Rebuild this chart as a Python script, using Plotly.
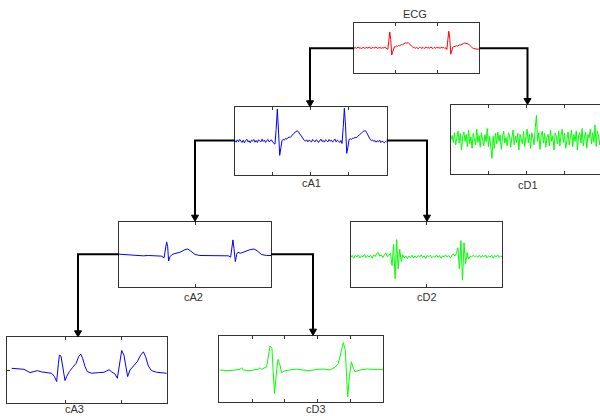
import plotly.graph_objects as go

W, H = 600, 416

# ---- signal data (sample index -> amplitude) ----
ecg = [0.00, 0.03, -0.02, 0.02, 0.04, -0.01, 0.02, -0.03, 0.01, 0.03, 0.00, -0.02, 0.03, 0.01, -0.01, 0.04,
       0.02, -0.02, 0.00, 0.03, -0.01, 0.02, 0.04, 0.00, -0.02, 0.02, 0.01, 0.03, -0.01, 0.02, 0.00, 0.03,
       0.01, -0.02,
       -0.05, 0.25, 0.65, 0.35, -0.28, -0.15, 0.02, 0.06, 0.05, 0.08, 0.07, 0.10, 0.09, 0.12, 0.14, 0.13,
       0.17, 0.19, 0.21, 0.20, 0.22, 0.21, 0.17, 0.13, 0.08, 0.04, 0.01, 0.02,
       -0.01, 0.02, 0.00, -0.02, 0.01, 0.03, -0.01, 0.00, 0.02, -0.02, 0.01, 0.03, 0.00, 0.02, -0.01, 0.01,
       0.04, 0.00, -0.02, 0.02, 0.01, -0.01, 0.03, 0.00, 0.02, -0.01, 0.01, 0.03, 0.00, 0.02, -0.02,
       0.01, -0.06, 0.30, 0.68, 0.40, -0.25, -0.12, 0.03, 0.05, 0.07, 0.06, 0.09, 0.08, 0.11, 0.13, 0.12,
       0.15, 0.17, 0.18, 0.20, 0.19, 0.21, 0.20, 0.16, 0.12, 0.07, 0.03, 0.01, -0.02, -0.03, -0.01, -0.04,
       -0.03, -0.05, -0.04]

ca1 = [0.02, -0.03, 0.04, -0.02, 0.05, 0.00, -0.04, 0.03, -0.05, 0.02, 0.06, -0.02, 0.01, -0.05, 0.03, 0.00,
       0.05, -0.03, 0.02, -0.04, 0.04, 0.01, -0.02, 0.06, -0.01, 0.03, -0.04, 0.02, 0.05, -0.02, 0.00, 0.04,
       -0.03, -0.06,
       -0.09, 0.35, 0.95, 0.30, -0.42, -0.20, 0.02, 0.05, 0.03, 0.08, 0.06, 0.10, 0.12, 0.11, 0.16, 0.20,
       0.23, 0.26, 0.29, 0.31, 0.27, 0.22, 0.15, 0.09, 0.05, 0.02,
       0.00, 0.04, -0.02, 0.03, 0.01, -0.03, 0.05, 0.00, -0.02, 0.04, 0.02, -0.04, 0.03, 0.06, -0.01, 0.02,
       -0.03, 0.04, 0.01, -0.02, 0.05, 0.00, 0.03, -0.03, 0.02, 0.06, -0.02, 0.03, 0.00, -0.04,
       0.02, -0.07, 0.40, 0.97, 0.45, -0.36, -0.18, 0.05, 0.07, 0.05, 0.09, 0.08, 0.11, 0.10, 0.13, 0.15,
       0.19, 0.22, 0.26, 0.29, 0.30, 0.31, 0.25, 0.18, 0.10, 0.05, 0.02, 0.04, -0.01, 0.02, -0.03, 0.01,
       -0.02, 0.03, -0.04, 0.00, -0.02, -0.05, -0.01, -0.03]

cd1 = [0.00, 0.12, -0.08, 0.20, -0.15, 0.05, 0.25, -0.10, 0.18, -0.30, 0.10, 0.22, -0.05, 0.15, -0.20, 0.28,
       -0.12, 0.08, -0.25, 0.18, 0.05, -0.15, 0.30, -0.08, 0.12, -0.22, 0.20, 0.02, -0.18, 0.15, -0.06, 0.32,
       -0.20, 0.10, -0.35, -0.54, 0.10, -0.25, 0.18, -0.12, 0.22, -0.05, 0.14, -0.28, 0.08, 0.25, -0.10, 0.06,
       -0.18, 0.20, 0.12, -0.22, 0.05, 0.28, -0.15, 0.10, -0.08, 0.18, -0.30, 0.15, 0.02, -0.12, 0.24, -0.20,
       0.08, 0.30, -0.10, 0.15, -0.25, 0.20, 0.05, -0.15, 0.35, 0.70, -0.05, 0.20, -0.28, 0.12, 0.25, -0.10,
       0.18, -0.22, 0.06, 0.15, -0.18, 0.28, -0.05, 0.10, -0.30, 0.20, 0.08, -0.12, 0.25, -0.18, 0.12, 0.30,
       -0.08, 0.18, -0.25, 0.05, 0.22, -0.15, 0.10, 0.28, -0.20, 0.15, -0.05, 0.25, -0.30, 0.12, 0.20, -0.10,
       0.32, -0.18, 0.08, 0.22, -0.25, 0.15, 0.05, 0.30, -0.12, 0.20, -0.08, 0.42, -0.20, 0.25, 0.10, -0.15,
       0.18, 0.05]

ca2_x = [0, 2.6, 5.9, 9.2, 12.5, 15.8, 19.1, 22.4, 25.7, 27.9, 29.5, 30.3, 31.2, 31.9, 32.5, 33.4, 34.7,
         36.7, 40.0, 43.3, 45.1, 47.0, 49.9, 53.2, 57.6, 62.0, 66.4, 69.7, 71.9, 73.4, 74.3, 74.9, 75.6,
         76.5, 77.4, 78.2, 80.0, 82.9, 86.2, 88.8, 91.0, 93.8, 97.1, 100]
ca2_y = [0.00, -0.01, -0.02, -0.03, -0.04, -0.05, -0.04, -0.05, -0.05, -0.06, -0.11, 0.18, 0.38, 0.23,
         -0.21, -0.08, -0.01, 0.02, 0.06, 0.14, 0.16, 0.10, -0.01, -0.04, -0.04, -0.03, -0.04, -0.03,
         -0.05, -0.09, 0.28, 0.44, 0.18, -0.23, 0.00, 0.06, 0.03, 0.08, 0.14, 0.16, 0.10, -0.01, -0.04, -0.04]

cd2 = [-0.10, -0.04, -0.12, -0.03, -0.09, -0.02, -0.11, -0.05, -0.08, -0.01, -0.10, -0.04, -0.09, -0.03,
       -0.12, -0.02, -0.07, 0.02, 0.05, -0.06, -0.02, -0.10, -0.03, 0.04, -0.08, -0.03,
       0.02, -0.35, 0.30, -0.75, 0.45, -0.45, 0.15, -0.22, -0.02,
       -0.12, -0.05, -0.14, -0.06, -0.10, -0.03, -0.12, -0.05, -0.11, -0.04, -0.09, -0.02, -0.10, -0.05,
       -0.13, -0.04, -0.08, -0.03, -0.11, -0.06, -0.09, -0.02, -0.10, -0.04, -0.12, -0.05, -0.08, -0.02,
       -0.09, -0.04, -0.11, -0.03, 0.01, -0.06,
       0.02, 0.20, -0.45, 0.42, -0.80, 0.35, -0.30, 0.05, -0.15,
       -0.06, -0.08, -0.04, -0.07, -0.05, -0.09, -0.03, -0.10, -0.04, -0.08, -0.02, -0.11, -0.05, -0.09,
       -0.03, -0.12, -0.04, -0.08, -0.02, -0.10, -0.05, -0.09]

ca3_x = [3.1, 9.3, 10.8, 14.5, 16.6, 19.1, 21.8, 24.9, 28.0, 29.7, 31.1, 32.2, 32.8, 33.8, 34.9, 36.3,
         37.3, 39.0, 41.1, 43.2, 44.8, 46.1, 47.3, 48.8, 50.2, 52.9, 57.1, 60.6, 62.2, 63.7, 65.4, 67.4,
         68.9, 70.1, 71.6, 73.0, 74.3, 75.3, 76.8, 78.8, 81.3, 83.4, 85.1, 86.5, 88.2, 90.2, 93.4, 99.6]
ca3_y = [0.06, 0.05, 0.03, -0.07, -0.04, -0.01, -0.05, -0.06, -0.09, -0.19, -0.34, 0.21, 0.46, 0.43,
         0.11, -0.31, -0.19, -0.04, 0.09, 0.21, 0.41, 0.49, 0.36, 0.11, -0.04, -0.09, -0.07, -0.06, -0.02,
         0.02, -0.05, -0.11, -0.24, 0.21, 0.60, 0.46, 0.11, -0.19, 0.01, 0.13, 0.26, 0.46, 0.56, 0.41,
         0.13, -0.01, -0.06, -0.09]

cd3_x = [0.4, 6.5, 12.6, 13.6, 14.6, 18.7, 23.8, 24.8, 25.8, 28.9, 30.9, 32.1, 32.9, 33.7, 35.0, 35.8,
         37.0, 38.0, 40.0, 43.1, 47.2, 51.2, 55.3, 59.3, 63.4, 67.5, 70.5, 72.6, 75.6, 76.8, 77.6, 78.3,
         79.3, 80.5, 81.7, 82.7, 85.8, 89.8, 93.9, 100]
cd3_y = [-0.04, -0.06, -0.02, 0.03, -0.04, -0.06, -0.01, 0.03, -0.02, 0.06, 0.69, 0.62, -0.14, -0.75,
         -0.04, 0.28, 0.11, -0.12, -0.06, -0.04, -0.01, -0.04, -0.06, -0.02, -0.01, -0.04, 0.04, 0.16,
         0.79, 0.57, -0.34, -0.85, -0.24, 0.21, 0.01, -0.09, -0.04, -0.01, -0.02, -0.02]

RED, BLUE, GREEN = "#ff0000", "#0000ff", "#00ff00"
FRAME = "#333333"


def px(x):
    return x / W


def py(y):
    return 1 - y / H


# panel layout: box in pixels (left, top, right, bottom), label position in pixels
panels = [
    dict(name="ECG", x=list(range(len(ecg))), y=ecg, color=RED,
         box=(354.3, 23.3, 479.3, 72.7), xr=(0, len(ecg) - 1), tickf=[1 / 3, 2 / 3],
         label=(415, 14)),
    dict(name="cA1", x=list(range(len(ca1))), y=ca1, color=BLUE,
         box=(235, 107.3, 386.7, 175), xr=(0, len(ca1) - 1), tickf=[0.25, 0.5, 0.75],
         label=(311, 183.5)),
    dict(name="cD1", x=list(range(len(cd1))), y=cd1, color=GREEN,
         box=(451, 105, 602, 174.3), xr=(0, len(cd1) - 1), tickf=[0.25, 0.5, 0.75],
         label=(528, 184.5)),
    dict(name="cA2", x=ca2_x, y=ca2_y, color=BLUE,
         box=(119.3, 221.7, 271, 286.7), xr=(0, 100), tickf=[0.5],
         label=(194, 297)),
    dict(name="cD2", x=list(range(len(cd2))), y=cd2, color=GREEN,
         box=(350.7, 221.7, 502.3, 286.7), xr=(0, len(cd2) - 1), tickf=[0.5],
         label=(427, 297)),
    dict(name="cA3", x=ca3_x, y=ca3_y, color=BLUE,
         box=(6.7, 337.3, 167.3, 403.3), xr=(0, 100), tickf=[0.365, 0.716],
         label=(74, 409), ytick=True),
    dict(name="cD3", x=cd3_x, y=cd3_y, color=GREEN,
         box=(219.3, 335.7, 383.3, 401.7), xr=(0, 100), tickf=[0.2, 0.4, 0.6, 0.8],
         label=(316, 409)),
]

fig = go.Figure()
layout = dict(width=W, height=H, margin=dict(l=0, r=0, t=0, b=0), autosize=False,
              paper_bgcolor="white", plot_bgcolor="white", showlegend=False)
annotations = []

for i, p in enumerate(panels, start=1):
    xa = "x" if i == 1 else f"x{i}"
    ya = "y" if i == 1 else f"y{i}"
    fig.add_trace(go.Scatter(x=p["x"], y=p["y"], mode="lines", xaxis=xa, yaxis=ya,
                             line=dict(color=p["color"], width=1), hoverinfo="skip"))
    left, top, right, bottom = p["box"]
    x0, x1 = p["xr"]
    span = x1 - x0
    vis_right = min(right, W)
    xr_vis = [x0, x0 + span * (vis_right - left) / (right - left)]
    tickvals = [x0 + f * span for f in p["tickf"]]
    layout["xaxis" if i == 1 else f"xaxis{i}"] = dict(
        domain=[px(left), px(vis_right)], range=xr_vis, anchor=ya,
        showgrid=False, zeroline=False, showticklabels=False,
        showline=True, linecolor=FRAME, linewidth=1, mirror="ticks",
        ticks="inside", ticklen=3, tickcolor=FRAME, tickwidth=1,
        tickmode="array", tickvals=tickvals, fixedrange=True)
    layout["yaxis" if i == 1 else f"yaxis{i}"] = dict(
        domain=[py(bottom), py(top)], range=[-1, 1], anchor=xa,
        showgrid=False, zeroline=False, showticklabels=False,
        showline=True, linecolor=FRAME, linewidth=1,
        mirror=(right <= W),
        ticks="inside" if p.get("ytick") else "", ticklen=3, tickcolor=FRAME,
        tickmode="array", tickvals=[0] if p.get("ytick") else [], fixedrange=True)
    lx, ly = p["label"]
    annotations.append(dict(x=px(lx), y=py(ly), xref="paper", yref="paper", text=p["name"],
                            showarrow=False, xanchor="center", yanchor="middle",
                            font=dict(family="Liberation Sans, Arial, sans-serif", size=11,
                                      color="#333333")))

# decomposition tree connectors: (start x, start y, drop x, end y)
connectors = [
    (354.3, 48.3, 310, 107.3),
    (479.3, 48.3, 527.5, 105),
    (235, 140.5, 195, 221.7),
    (386.7, 140.5, 427, 221.7),
    (119.3, 254.3, 78, 337.3),
    (271, 254.3, 313, 335.7),
]
shapes = []
for sx, sy, dx, ey in connectors:
    tip = ey - 0.5
    base = tip - 6
    shapes.append(dict(type="path", xref="paper", yref="paper",
                       path=f"M {px(sx)} {py(sy)} L {px(dx)} {py(sy)} L {px(dx)} {py(base + 1)}",
                       line=dict(color="black", width=2)))
    shapes.append(dict(type="path", xref="paper", yref="paper",
                       path=(f"M {px(dx - 3.5)} {py(base)} L {px(dx + 3.5)} {py(base)} "
                             f"L {px(dx)} {py(tip)} Z"),
                       fillcolor="black", line=dict(color="black", width=1)))

layout["annotations"] = annotations
layout["shapes"] = shapes
fig.update_layout(**layout)
fig.write_html("out.html")
